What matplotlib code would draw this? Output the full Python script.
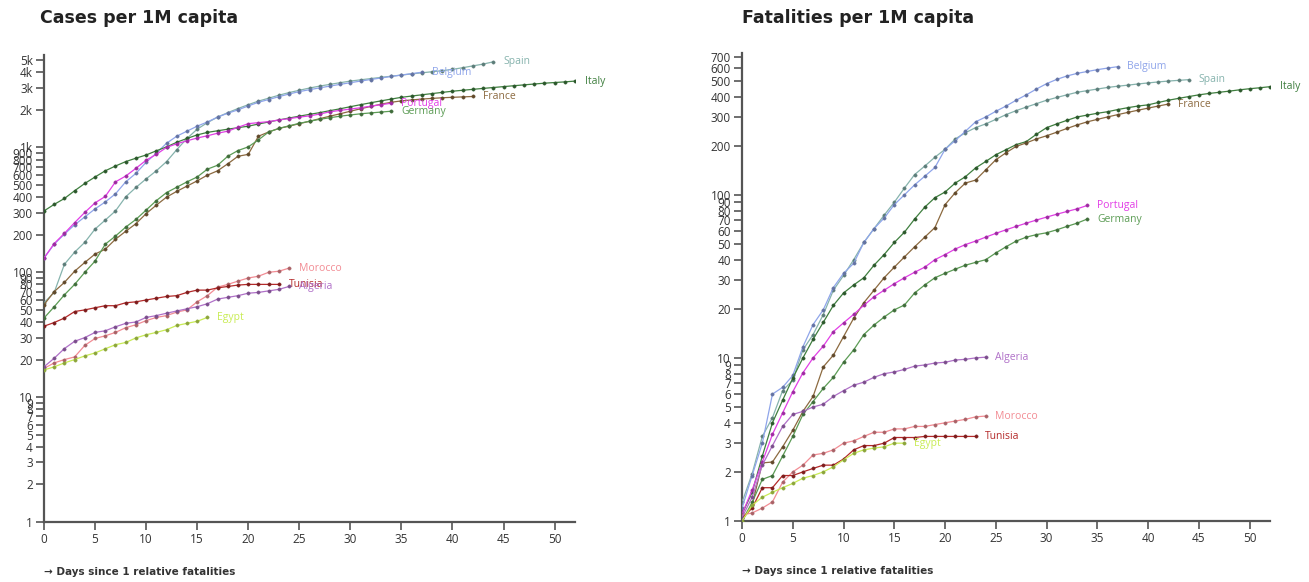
import matplotlib.pyplot as plt
import numpy as np
from matplotlib.ticker import FixedLocator, NullLocator

# series per country: value at day 0, 1, 2, ... (days since 1 relative fatalities)
countries = ["Spain", "Belgium", "Italy", "France", "Portugal", "Germany",
             "Morocco", "Tunisia", "Algeria", "Egypt"]
colors = {"Spain": "#86b3ad", "Belgium": "#8fa5ea", "Italy": "#3f7f3f",
          "France": "#8c6a40", "Portugal": "#e23ee6", "Germany": "#5c9c55",
          "Morocco": "#f28c94", "Tunisia": "#b42a2a", "Algeria": "#b070c8",
          "Egypt": "#c9ec55"}

cases_spain = [57, 69, 116, 145, 174, 222, 262, 310, 402, 478, 560, 650, 770,
               960, 1180, 1400, 1580, 1750, 1900, 2050, 2200,
               2350, 2480, 2620, 2750, 2870, 2990, 3100, 3200, 3300, 3400,
               3480, 3560, 3640, 3720, 3800, 3880, 3960, 4040, 4120, 4220, 4350, 4500, 4650, 4850]
cases_belgium = [130, 168, 202, 240, 278, 322, 366, 425, 530, 620, 760, 900, 1080,
                 1230, 1350, 1480, 1600, 1750, 1880, 2000, 2150,
                 2300, 2420, 2550, 2680, 2800, 2900, 3000, 3100, 3200, 3300,
                 3400, 3500, 3600, 3700, 3800, 3900, 4000]
cases_italy = [310, 350, 390, 450, 515, 580, 650, 710, 770, 820, 870,
               940, 1010, 1100, 1180, 1260, 1320, 1360, 1400, 1440, 1480,
               1540, 1600, 1660, 1720, 1780, 1840, 1900, 1970, 2040, 2120,
               2200, 2280, 2360, 2440, 2520, 2580, 2640, 2700, 2760, 2820,
               2870, 2920, 2970, 3020, 3070, 3120, 3170, 3220, 3270, 3310, 3350, 3400]
cases_france = [55, 70, 83, 102, 120, 140, 153, 184, 213, 245, 295,
                345, 400, 445, 490, 540, 600, 650, 740, 850, 880,
                1230, 1330, 1420, 1480, 1550, 1620, 1700, 1780, 1860, 1950,
                2040, 2130, 2220, 2300, 2360, 2400, 2440, 2470, 2500, 2520, 2540, 2560]
cases_portugal = [130, 170, 205, 250, 302, 360, 405, 530, 590, 680, 790,
                  880, 1000, 1070, 1130, 1190, 1240, 1300, 1350, 1450, 1550,
                  1580, 1610, 1660, 1700, 1750, 1790, 1850, 1930, 1980, 2030, 2080, 2140, 2200, 2260]
cases_germany = [43, 53, 66, 80, 100, 123, 168, 195, 230, 265, 315,
                 375, 435, 480, 530, 580, 670, 720, 850, 945, 1010,
                 1150, 1330, 1420, 1490, 1560, 1620, 1680, 1730, 1780, 1820, 1860, 1890, 1920, 1950]
cases_morocco = [17, 18.8, 20, 21, 26, 29.5, 31, 33, 36, 38, 41, 43.5, 45, 48, 50,
                 58, 65, 76, 80, 85, 90, 93, 100, 102, 108]
cases_tunisia = [37, 39.6, 43, 48.5, 50, 52, 54, 54, 57, 58, 60, 62, 64, 65, 69,
                 72, 72, 75, 77, 79, 80, 80, 80, 80]
cases_algeria = [17.5, 20.5, 24.5, 28, 30, 33, 34, 36.6, 39, 40, 43.5, 45, 47, 49, 51,
                 53, 56, 61, 63, 65, 68, 69, 71, 73, 77]
cases_egypt = [16.5, 17.5, 18.8, 20, 21.4, 22.6, 24.4, 26.3, 27.4, 29.8, 31.6, 33,
               34.7, 37.5, 39, 40.5, 43.5]

fat_spain = [1.3, 1.95, 3.3, 4.3, 6.3, 7.3, 11.2, 13.9, 18.4,
             26, 32, 40, 51, 62, 75, 90, 110, 133, 150, 170, 190,
             220, 240, 258, 272, 290, 310, 328, 345, 362, 380,
             395, 410, 425, 435, 445, 455, 463, 470, 478, 485, 492, 498, 503, 508]
fat_belgium = [1.2, 1.9, 3.0, 6.0, 6.6, 7.8, 11.7, 16, 19.7,
               27, 33, 38, 51, 62, 72, 87, 100, 115, 130, 147, 190,
               215, 245, 280, 300, 325, 350, 380, 410, 445, 480,
               510, 535, 555, 570, 585, 598, 610]
fat_italy = [1.1, 1.5, 2.5, 4.0, 5.5, 7.5, 10, 13, 16.5, 21, 25,
             28, 31, 37, 43, 51, 59, 71, 84, 96, 104,
             118, 129, 146, 160, 176, 189, 203, 212, 235, 258,
             272, 286, 300, 308, 316, 323, 333, 342, 350, 356,
             368, 380, 390, 400, 410, 418, 425, 432, 440, 447, 453, 460]
fat_france = [1.0, 1.25, 2.27, 2.3, 2.85, 3.6, 4.7, 5.8, 8.8, 10.4, 13.5, 17.5,
              21.8, 26, 31, 36, 41.6, 48, 55, 63, 87, 103,
              118, 123, 142, 164, 181, 198, 208, 220, 230, 242,
              255, 268, 280, 290, 300, 310, 320, 330, 340, 350, 360]
fat_portugal = [1.1, 1.55, 2.3, 3.4, 4.6, 6.2, 8.1, 10, 11.8, 14.5, 16.4,
                18.5, 21, 23.7, 26, 28.5, 31, 33.5, 36, 40, 43,
                46.5, 49.5, 52, 55, 58, 61, 64, 67, 70, 73, 76, 79, 82, 86]
fat_germany = [1.0, 1.3, 1.8, 1.9, 2.5, 3.3, 4.5, 5.4, 6.5, 7.6, 9.4,
               11.2, 13.9, 15.9, 17.8, 19.7, 21.1, 25, 28, 31, 33,
               35, 37, 38.5, 40, 44, 48, 52, 55, 57, 58.5, 61, 64, 67, 71]
fat_algeria = [1.05, 1.4, 2.2, 2.9, 3.8, 4.5, 4.7, 5.0, 5.2, 5.8, 6.3, 6.8, 7.1,
               7.6, 8.0, 8.2, 8.5, 8.9, 9.05, 9.3, 9.4, 9.7, 9.8, 10.0, 10.1]
fat_morocco = [1.09, 1.12, 1.2, 1.31, 1.73, 2.0, 2.2, 2.54, 2.6, 2.73, 3.0, 3.1, 3.3,
               3.5, 3.5, 3.67, 3.67, 3.8, 3.8, 3.9, 4.0, 4.1, 4.2, 4.35, 4.4]
fat_tunisia = [1.04, 1.2, 1.6, 1.6, 1.9, 1.9, 2.0, 2.1, 2.2, 2.2, 2.4, 2.73, 2.9,
               2.9, 3.0, 3.25, 3.25, 3.25, 3.3, 3.3, 3.3, 3.3, 3.3, 3.3]
fat_egypt = [1.0, 1.25, 1.4, 1.5, 1.6, 1.7, 1.83, 1.9, 2.0, 2.15, 2.37, 2.6, 2.73,
             2.8, 2.85, 3.0, 3.0]

cases = {"Spain": cases_spain, "Belgium": cases_belgium, "Italy": cases_italy,
         "France": cases_france, "Portugal": cases_portugal, "Germany": cases_germany,
         "Morocco": cases_morocco, "Tunisia": cases_tunisia, "Algeria": cases_algeria,
         "Egypt": cases_egypt}
fatalities = {"Spain": fat_spain, "Belgium": fat_belgium, "Italy": fat_italy,
              "France": fat_france, "Portugal": fat_portugal, "Germany": fat_germany,
              "Morocco": fat_morocco, "Tunisia": fat_tunisia, "Algeria": fat_algeria,
              "Egypt": fat_egypt}

x_ticks = [0, 5, 10, 15, 20, 25, 30, 35, 40, 45, 50]


def darker(c, f=0.55):
    c = c.lstrip("#")
    r, g, b = (int(c[i:i + 2], 16) for i in (0, 2, 4))
    return "#%02x%02x%02x" % (int(r * f), int(g * f), int(b * f))


def fmt(v):
    if v >= 1000:
        return "%dk" % (v // 1000)
    return "%d" % v


def draw(ax, data, ymax):
    for name in countries:
        vals = data[name]
        days = np.arange(len(vals))
        col = colors[name]
        ax.plot(days, vals, color=col, lw=0.9, marker="o", ms=2.4,
                mfc=darker(col, 0.7), mec=darker(col, 0.7), mew=0.3, zorder=3)
        ax.annotate(name, (days[-1], vals[-1]), xytext=(7, 0), textcoords="offset points",
                    ha="left", va="center", fontsize=7.5, color=col, family="Open Sans")
    ax.set_yscale("log")
    ax.set_ylim(1, ymax)
    ax.set_xlim(0, 52)
    ticks = [m * 10 ** e for e in range(0, 5) for m in range(1, 10) if m * 10 ** e <= ymax]
    ax.yaxis.set_major_locator(FixedLocator(ticks))
    ax.yaxis.set_minor_locator(NullLocator())
    ax.set_yticklabels([fmt(t) for t in ticks])
    ax.set_xticks(x_ticks)
    for s in ["top", "right"]:
        ax.spines[s].set_visible(False)
    for s in ["left", "bottom"]:
        ax.spines[s].set_color("#555555")
        ax.spines[s].set_linewidth(1.6)
    ax.tick_params(axis="both", direction="out", length=6, width=1.2, color="#555555",
                   labelsize=8.5, labelcolor="#333333", pad=2)
    for lab in ax.get_xticklabels() + ax.get_yticklabels():
        lab.set_family("Open Sans")
    ax.text(0.0, -0.107, "\u2192 Days since 1 relative fatalities", transform=ax.transAxes,
            fontsize=7.5, fontweight="bold", color="#333333", ha="left", va="center",
            family="DejaVu Sans")


fig = plt.figure(figsize=(13.09, 5.82), dpi=100)
ax1 = fig.add_axes([44 / 1309, 1 - 522 / 582, 531 / 1309, 467 / 582])
ax2 = fig.add_axes([742 / 1309, 1 - 521 / 582, 528 / 1309, 468 / 582])

draw(ax1, cases, 5500)
draw(ax2, fatalities, 740)

fig.text(40 / 1309, 1 - 18 / 582, "Cases per 1M capita", fontsize=12.5,
         fontweight="bold", color="#222222", ha="left", va="center")
fig.text(742 / 1309, 1 - 18 / 582, "Fatalities per 1M capita", fontsize=12.5,
         fontweight="bold", color="#222222", ha="left", va="center")

fig.savefig("out.png", dpi=100)
